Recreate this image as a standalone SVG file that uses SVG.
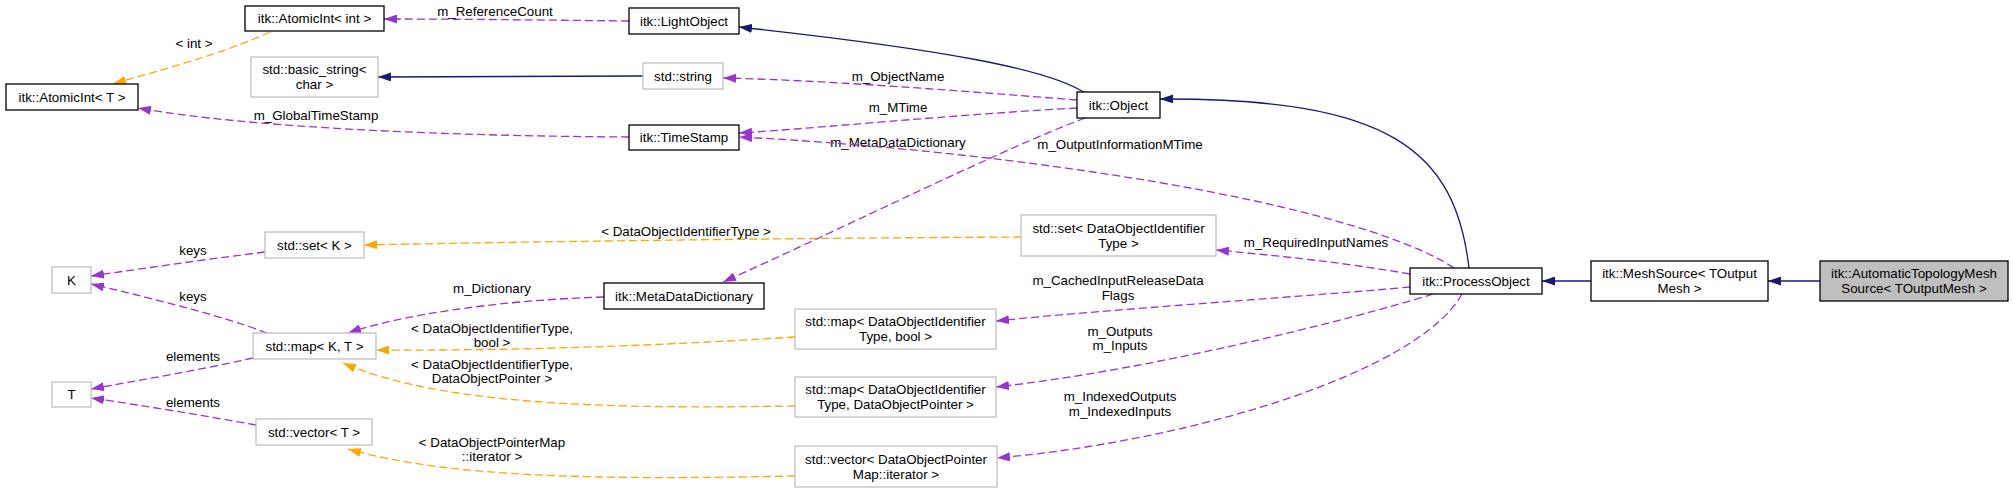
<svg xmlns="http://www.w3.org/2000/svg" width="2013" height="492" viewBox="0 0 2013 492">
<style>
text{font-family:"Liberation Sans",Arial,Helvetica,sans-serif;font-size:13.33px;fill:#000}
.node text{text-anchor:middle}
.lbl{text-anchor:middle}
.doc{fill:#fff;stroke:#000;stroke-width:1.3}
.std{fill:#fff;stroke:#bfbfbf;stroke-width:1.3}
.cur{fill:#bfbfbf;stroke:#000;stroke-width:1.3}
.inh{fill:none;stroke:#191970;stroke-width:1.3;marker-end:url(#ab)}
.use{fill:none;stroke:#9a32cd;stroke-width:1.3;stroke-dasharray:8,4;marker-end:url(#ap)}
.tpl{fill:none;stroke:#ffa500;stroke-width:1.3;stroke-dasharray:8,4;marker-end:url(#ao)}
</style>
<defs>
<marker id="ab" markerUnits="userSpaceOnUse" markerWidth="13" markerHeight="9" viewBox="0 0 13 9" refX="13" refY="4.5" orient="auto"><path d="M0,0 L13,4.5 L0,9 z" fill="#191970"/></marker>
<marker id="ap" markerUnits="userSpaceOnUse" markerWidth="13" markerHeight="9" viewBox="0 0 13 9" refX="13" refY="4.5" orient="auto"><path d="M0,0 L13,4.5 L0,9 z" fill="#9a32cd"/></marker>
<marker id="ao" markerUnits="userSpaceOnUse" markerWidth="13" markerHeight="9" viewBox="0 0 13 9" refX="13" refY="4.5" orient="auto"><path d="M0,0 L13,4.5 L0,9 z" fill="#ffa500"/></marker>
</defs>
<rect width="2013" height="492" fill="#fff"/>
<g id="edges">
<g class="edge"><path class="use" d="M629,21 C540,20 460,19 384,19"/><text class="lbl" x="495" y="16">m_ReferenceCount</text></g>
<g class="edge"><path class="tpl" d="M270,32 C220,55 160,70 113,84"/><text class="lbl" x="194" y="48">&lt; int &gt;</text></g>
<g class="edge"><path class="inh" d="M643,76 L378,77"/></g>
<g class="edge"><path class="use" d="M629,137 C450,136 250,128 138,108"/><text class="lbl" x="316" y="120">m_GlobalTimeStamp</text></g>
<g class="edge"><path class="inh" d="M1085,93 C1050,70 950,50 739,27"/></g>
<g class="edge"><path class="use" d="M1077,100 C950,90 820,80 723,78"/><text class="lbl" x="898" y="81">m_ObjectName</text></g>
<g class="edge"><path class="use" d="M1077,108 C950,115 820,128 739,133"/><text class="lbl" x="898" y="112">m_MTime</text></g>
<g class="edge"><path class="use" d="M1085,118 C1000,150 850,225 723,282"/><text class="lbl" x="898" y="147">m_MetaDataDictionary</text></g>
<g class="edge"><path class="use" d="M1454,268 C1350,200 1000,150 739,137"/><text class="lbl" x="1120" y="149">m_OutputInformationMTime</text></g>
<g class="edge"><path class="inh" d="M1469,268 C1455,150 1390,98 1160,99"/></g>
<g class="edge"><path class="use" d="M1410,274 C1340,262 1280,256 1216,250"/><text class="lbl" x="1316" y="247">m_RequiredInputNames</text></g>
<g class="edge"><path class="tpl" d="M1021,237 C800,238 500,242 364,245"/><text class="lbl" x="686" y="236">&lt; DataObjectIdentifierType &gt;</text></g>
<g class="edge"><path class="use" d="M1410,287 C1300,297 1100,310 996,321"/><text class="lbl" x="1118" y="285">m_CachedInputReleaseData</text><text class="lbl" x="1118" y="300">Flags</text></g>
<g class="edge"><path class="use" d="M1433,294 C1350,320 1150,370 996,387"/><text class="lbl" x="1120" y="336">m_Outputs</text><text class="lbl" x="1120" y="350">m_Inputs</text></g>
<g class="edge"><path class="use" d="M1462,294 C1420,370 1200,440 997,458"/><text class="lbl" x="1120" y="401">m_IndexedOutputs</text><text class="lbl" x="1120" y="416">m_IndexedInputs</text></g>
<g class="edge"><path class="tpl" d="M795,337 C700,343 550,351 376,350"/><text class="lbl" x="492" y="333">&lt; DataObjectIdentifierType,</text><text class="lbl" x="492" y="347">bool &gt;</text></g>
<g class="edge"><path class="tpl" d="M795,406 C650,408 450,410 343,363"/><text class="lbl" x="492" y="369">&lt; DataObjectIdentifierType,</text><text class="lbl" x="492" y="383">DataObjectPointer &gt;</text></g>
<g class="edge"><path class="tpl" d="M795,476 C600,480 450,478 348,449"/><text class="lbl" x="492" y="447">&lt; DataObjectPointerMap</text><text class="lbl" x="492" y="461">::iterator &gt;</text></g>
<g class="edge"><path class="use" d="M265,252 C200,260 140,269 91,276"/><text class="lbl" x="193" y="255">keys</text></g>
<g class="edge"><path class="use" d="M267,333 C220,315 150,298 91,284"/><text class="lbl" x="193" y="301">keys</text></g>
<g class="edge"><path class="use" d="M604,297 C500,300 400,315 348,333"/><text class="lbl" x="492" y="293">m_Dictionary</text></g>
<g class="edge"><path class="use" d="M253,358 C200,370 140,380 91,389"/><text class="lbl" x="193" y="361">elements</text></g>
<g class="edge"><path class="use" d="M256,425 C200,415 140,405 91,398"/><text class="lbl" x="193" y="407">elements</text></g>
<g class="edge"><path class="inh" d="M1591,281 L1542,281"/></g>
<g class="edge"><path class="inh" d="M1820,281 L1768,281"/></g>
</g>
<g id="n_atomicint_int" class="node"><rect class="doc" x="245" y="6" width="139" height="25"/><text x="314.5" y="23">itk::AtomicInt&lt; int &gt;</text></g>
<g id="n_lightobject" class="node"><rect class="doc" x="629" y="8" width="110" height="26"/><text x="684" y="25.7">itk::LightObject</text></g>
<g id="n_basic_string" class="node"><rect class="std" x="251" y="57" width="127" height="40"/><text x="314.5" y="74">std::basic_string&lt;</text><text x="314.5" y="89">char &gt;</text></g>
<g id="n_string" class="node"><rect class="std" x="643" y="63" width="80" height="26"/><text x="683" y="80.7">std::string</text></g>
<g id="n_atomicint_t" class="node"><rect class="doc" x="6" y="84" width="132" height="26"/><text x="72" y="101.7">itk::AtomicInt&lt; T &gt;</text></g>
<g id="n_object" class="node"><rect class="doc" x="1077" y="92" width="83" height="26"/><text x="1118.5" y="109.7">itk::Object</text></g>
<g id="n_timestamp" class="node"><rect class="doc" x="629" y="125" width="110" height="25"/><text x="684" y="142.2">itk::TimeStamp</text></g>
<g id="n_set_k" class="node"><rect class="std" x="265" y="232" width="99" height="26"/><text x="314.5" y="249.7">std::set&lt; K &gt;</text></g>
<g id="n_k" class="node"><rect class="std" x="52" y="267" width="39" height="26"/><text x="71.5" y="284.7">K</text></g>
<g id="n_set_doit" class="node"><rect class="std" x="1021" y="215" width="195" height="41"/><text x="1118.5" y="232.5">std::set&lt; DataObjectIdentifier</text><text x="1118.5" y="247.5">Type &gt;</text></g>
<g id="n_metadatadictionary" class="node"><rect class="doc" x="604" y="283" width="160" height="26"/><text x="684" y="300.7">itk::MetaDataDictionary</text></g>
<g id="n_map_kt" class="node"><rect class="std" x="253" y="333" width="123" height="26"/><text x="314.5" y="350.7">std::map&lt; K, T &gt;</text></g>
<g id="n_t" class="node"><rect class="std" x="52" y="382" width="39" height="25"/><text x="71.5" y="399.2">T</text></g>
<g id="n_vector_t" class="node"><rect class="std" x="256" y="419" width="116" height="26"/><text x="314" y="436.7">std::vector&lt; T &gt;</text></g>
<g id="n_map_bool" class="node"><rect class="std" x="795" y="309" width="201" height="40"/><text x="895.5" y="326">std::map&lt; DataObjectIdentifier</text><text x="895.5" y="341">Type, bool &gt;</text></g>
<g id="n_map_ptr" class="node"><rect class="std" x="795" y="377" width="201" height="40"/><text x="895.5" y="394">std::map&lt; DataObjectIdentifier</text><text x="895.5" y="409">Type, DataObjectPointer &gt;</text></g>
<g id="n_vector_iter" class="node"><rect class="std" x="795" y="446" width="202" height="41"/><text x="896" y="463.5">std::vector&lt; DataObjectPointer</text><text x="896" y="478.5">Map::iterator &gt;</text></g>
<g id="n_processobject" class="node"><rect class="doc" x="1410" y="268" width="132" height="26"/><text x="1476" y="285.7">itk::ProcessObject</text></g>
<g id="n_meshsource" class="node"><rect class="doc" x="1591" y="261" width="177" height="40"/><text x="1679.5" y="278">itk::MeshSource&lt; TOutput</text><text x="1679.5" y="293">Mesh &gt;</text></g>
<g id="n_automatictopologymeshsource" class="node"><rect class="cur" x="1820" y="261" width="188" height="40"/><text x="1914" y="278">itk::AutomaticTopologyMesh</text><text x="1914" y="293">Source&lt; TOutputMesh &gt;</text></g>
</svg>
